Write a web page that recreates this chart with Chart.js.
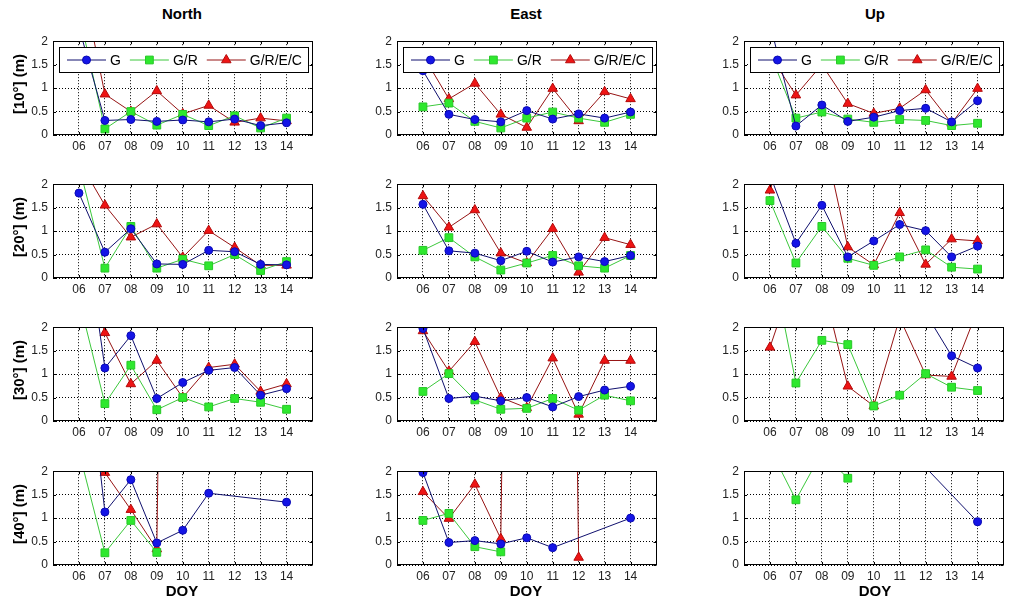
<!DOCTYPE html>
<html lang="en">
<head>
<meta charset="UTF-8">
<title>DOY panels</title>
<script src="https://cdn.jsdelivr.net/npm/chart.js@4.4.0/dist/chart.umd.min.js"></script>
<style>
  body { margin: 0; background: #fff; width: 1024px; height: 606px; position: relative; overflow: hidden;
         font-family: "Liberation Sans", Arial, sans-serif; color: #000; }
  canvas { position: absolute; }
  .title { position: absolute; top: 5px; font-weight: bold; font-size: 15px; transform: translateX(-50%); }
  .doy { position: absolute; top: 582px; font-weight: bold; font-size: 15px; transform: translateX(-50%); }
  .rowlab { position: absolute; font-weight: bold; font-size: 15px; white-space: nowrap;
            transform: translate(-50%, -50%) rotate(-90deg); }
</style>
</head>
<body>
<script>
const days = [6, 7, 8, 9, 10, 11, 12, 13, 14];
const yTicks = [0, 0.5, 1, 1.5, 2];
const seriesNames = ['G', 'G/R', 'G/R/E/C'];
const components = ['North', 'East', 'Up'];
const rowLabels = ['[10°] (m)', '[20°] (m)', '[30°] (m)', '[40°] (m)'];

// 10 deg
const north10G    = [2.3, 0.31, 0.33, 0.29, 0.32, 0.28, 0.34, 0.2, 0.26];
const north10GR   = [2.6, 0.13, 0.5, 0.21, 0.44, 0.2, 0.41, 0.15, 0.36];
const north10GREC = [3.6, 0.87, 0.5, 0.94, 0.45, 0.63, 0.27, 0.36, 0.3];
const east10G     = [1.37, 0.44, 0.33, 0.28, 0.52, 0.34, 0.45, 0.36, 0.49];
const east10GR    = [0.6, 0.68, 0.29, 0.15, 0.36, 0.49, 0.36, 0.27, 0.44];
const east10GREC  = [1.7, 0.77, 1.1, 0.44, 0.16, 0.99, 0.3, 0.92, 0.77];
const up10G       = [2.37, 0.19, 0.64, 0.29, 0.38, 0.52, 0.57, 0.28, 0.73];
const up10GR      = [1.75, 0.36, 0.49, 0.34, 0.27, 0.33, 0.31, 0.2, 0.25];
const up10GREC    = [1.7, 0.85, 1.5, 0.67, 0.46, 0.57, 0.96, 0.25, 0.99];

// 20 deg
const north20G    = [1.81, 0.55, 1.05, 0.3, 0.29, 0.59, 0.56, 0.29, 0.28];
const north20GR   = [2.4, 0.21, 1.1, 0.21, 0.4, 0.26, 0.5, 0.16, 0.35];
const north20GREC = [2.5, 1.55, 0.87, 1.15, 0.44, 1.01, 0.65, 0.27, 0.27];
const east20G     = [1.57, 0.58, 0.53, 0.37, 0.57, 0.34, 0.45, 0.35, 0.48];
const east20GR    = [0.59, 0.86, 0.45, 0.17, 0.32, 0.48, 0.26, 0.21, 0.48];
const east20GREC  = [1.75, 1.08, 1.45, 0.53, 0.32, 1.05, 0.12, 0.86, 0.71];
const up20G       = [2.2, 0.74, 1.55, 0.45, 0.79, 1.14, 1.01, 0.45, 0.68];
const up20GR      = [1.65, 0.32, 1.1, 0.42, 0.27, 0.45, 0.6, 0.23, 0.19];
const up20GREC    = [1.87, 3.5, 3.2, 0.66, 0.28, 1.39, 0.29, 0.83, 0.79];

// 30 deg
const north30G    = [5, 1.13, 1.82, 0.48, 0.82, 1.08, 1.14, 0.55, 0.69];
const north30GR   = [2.6, 0.37, 1.19, 0.24, 0.5, 0.3, 0.48, 0.4, 0.25];
const north30GREC = [4, 1.88, 0.79, 1.29, 0.5, 1.14, 1.21, 0.63, 0.79];
const east30G     = [1.97, 0.48, 0.53, 0.43, 0.5, 0.3, 0.52, 0.66, 0.74];
const east30GR    = [0.63, 1.01, 0.45, 0.25, 0.27, 0.48, 0.23, 0.55, 0.43];
const east30GREC  = [1.92, 1.06, 1.69, 0.5, 0.28, 1.34, 0.14, 1.29, 1.29];
const up30G       = [3.2, 3.6, 3.4, 3.0, 3.3, 2.9, 2.3, 1.39, 1.13];
const up30GR      = [3.6, 0.81, 1.72, 1.63, 0.32, 0.55, 1.01, 0.72, 0.65];
const up30GREC    = [1.57, 3.2, 3.0, 0.74, 0.32, 2.2, 0.98, 0.95, 2.37];

// 40 deg
const north40G    = [6, 1.13, 1.82, 0.47, 0.74, 1.53, null, null, 1.34];
const north40GR   = [2.42, 0.26, 0.95, 0.27, null, null, null, null, null];
const north40GREC = [null, 1.97, 1.18, 0.34, 40, null, null, null, null];
const east40G     = [1.97, 0.48, 0.52, 0.45, 0.58, 0.37, null, null, 1.0];
const east40GR    = [0.95, 1.1, 0.39, 0.28, null, null, null, null, null];
const east40GREC  = [1.56, 0.99, 1.72, 0.56, 40, 40, 0.16, null, null];
const up40G       = [3.2, 2.9, 3.5, 2.7, 3.0, 2.66, null, null, 0.92];
const up40GR      = [2.48, 1.39, 2.4, 1.85, null, null, null, null, null];
const up40GREC    = [null, null, null, null, null, null, null, null, null];

const panels = [
  [[north10G, north10GR, north10GREC], [east10G, east10GR, east10GREC], [up10G, up10GR, up10GREC]],
  [[north20G, north20GR, north20GREC], [east20G, east20GR, east20GREC], [up20G, up20GR, up20GREC]],
  [[north30G, north30GR, north30GREC], [east30G, east30GR, east30GREC], [up30G, up30GR, up30GREC]],
  [[north40G, north40GR, north40GREC], [east40G, east40GR, east40GREC], [up40G, up40GR, up40GREC]]
];

// plot-area placement (px)
const colLeft = [53, 397, 744];
const rowTop = [32, 175, 318, 462];
const plotW = 263, plotH = 103;
const yAxisW = 40, xAxisH = 22, padT = 3, padR = 3;

const styles = [
  { line: '#10106e', fill: '#1414e6', edge: '#0a0ab4', shape: 'circle', r: 4 },
  { line: '#3cc83c', fill: '#2ee82e', edge: '#28c828', shape: 'rect', r: 5.5 },
  { line: '#961414', fill: '#ee1414', edge: '#b40a0a', shape: 'triangle', r: 5.5 }
];

const fontFam = '"Liberation Sans", Arial, sans-serif';
Chart.defaults.font.family = fontFam;
Chart.defaults.font.size = 12;
Chart.defaults.color = '#222';

function marker(ctx, shape, x, y, r) {
  ctx.beginPath();
  if (shape === 'circle') {
    ctx.arc(x, y, r, 0, Math.PI * 2);
  } else if (shape === 'rect') {
    const s = r * Math.SQRT1_2;
    ctx.rect(x - s, y - s, 2 * s, 2 * s);
  } else {
    ctx.moveTo(x, y - r);
    ctx.lineTo(x + r * 0.866, y + r * 0.5);
    ctx.lineTo(x - r * 0.866, y + r * 0.5);
    ctx.closePath();
  }
  ctx.fill();
  ctx.stroke();
}

const framePlugin = {
  id: 'frame',
  afterDatasetsDraw(chart, args, opts) {
    const ctx = chart.ctx, a = chart.chartArea;
    const xs = chart.scales.x, ys = chart.scales.y;
    ctx.save();
    ctx.strokeStyle = '#000';
    ctx.lineWidth = 1;
    ctx.strokeRect(Math.round(a.left) + 0.5, Math.round(a.top) + 0.5,
                   Math.round(a.right - a.left) - 1, Math.round(a.bottom - a.top) - 1);
    ctx.beginPath();
    xs.ticks.forEach(t => {
      const px = Math.round(xs.getPixelForValue(t.value)) + 0.5;
      ctx.moveTo(px, a.bottom); ctx.lineTo(px, a.bottom - 3);
      ctx.moveTo(px, a.top); ctx.lineTo(px, a.top + 3);
    });
    ys.ticks.forEach(t => {
      const py = Math.round(ys.getPixelForValue(t.value)) + 0.5;
      ctx.moveTo(a.left, py); ctx.lineTo(a.left + 3, py);
      ctx.moveTo(a.right, py); ctx.lineTo(a.right - 3, py);
    });
    ctx.stroke();

    if (opts.legend) {
      ctx.font = '14px ' + fontFam;
      ctx.textBaseline = 'middle';
      const lineLen = 39, pad = 8, gap = 4, sep = 9, h = 25;
      let w = pad + 6 - sep;
      seriesNames.forEach(n => { w += lineLen + gap + ctx.measureText(n).width + sep; });
      const x0 = Math.round(a.left) + 6, y0 = Math.round(a.top) + 6;
      ctx.fillStyle = '#fff';
      ctx.fillRect(x0, y0, w, h);
      ctx.strokeStyle = '#000';
      ctx.strokeRect(x0 + 0.5, y0 + 0.5, Math.round(w), h);
      let x = x0 + pad;
      const yc = y0 + h / 2 + 0.5;
      seriesNames.forEach((n, i) => {
        const st = styles[i];
        ctx.strokeStyle = st.line;
        ctx.beginPath(); ctx.moveTo(x, yc); ctx.lineTo(x + lineLen, yc); ctx.stroke();
        ctx.fillStyle = st.fill; ctx.strokeStyle = st.edge;
        marker(ctx, st.shape, x + lineLen / 2, yc, st.r);
        x += lineLen + gap;
        ctx.fillStyle = '#000';
        ctx.fillText(n, x, yc + 1);
        x += ctx.measureText(n).width + sep;
      });
    }
    ctx.restore();
  }
};

function makePanel(row, col) {
  const cv = document.createElement('canvas');
  const w = yAxisW + plotW + padR, h = padT + plotH + xAxisH;
  cv.width = w; cv.height = h;
  cv.style.left = (colLeft[col] - yAxisW) + 'px';
  cv.style.top = (rowTop[row] - padT) + 'px';
  document.body.appendChild(cv);

  const datasets = panels[row][col].map((vals, i) => ({
    label: seriesNames[i],
    data: days.map((d, k) => ({ x: d, y: vals[k] })),
    borderColor: styles[i].line,
    borderWidth: 1,
    backgroundColor: styles[i].fill,
    pointStyle: styles[i].shape,
    pointRadius: styles[i].r,
    pointBackgroundColor: styles[i].fill,
    pointBorderColor: styles[i].edge,
    pointBorderWidth: 1,
    spanGaps: true,
    tension: 0,
    clip: 0
  }));

  new Chart(cv, {
    type: 'line',
    data: { datasets },
    plugins: [framePlugin],
    options: {
      responsive: false,
      animation: false,
      events: [],
      layout: { padding: { top: padT, right: padR, left: 0, bottom: 0 } },
      plugins: {
        legend: { display: false },
        tooltip: { enabled: false },
        frame: { legend: row === 0 }
      },
      scales: {
        x: {
          type: 'linear', min: 5, max: 15,
          afterBuildTicks: s => { s.ticks = days.map(v => ({ value: v })); },
          afterFit: s => { s.height = xAxisH; },
          ticks: { autoSkip: false, maxRotation: 0, padding: 4,
                   callback: v => String(v).padStart(2, '0') },
          grid: { color: '#000', lineWidth: 1, drawTicks: false },
          border: { display: false, dash: [1, 2] }
        },
        y: {
          min: 0, max: 2,
          afterBuildTicks: s => { s.ticks = yTicks.map(v => ({ value: v })); },
          afterFit: s => { s.width = yAxisW; },
          ticks: { padding: 5, callback: v => String(v) },
          grid: { color: '#000', lineWidth: 1, drawTicks: false },
          border: { display: false, dash: [1, 2] }
        }
      }
    }
  });
}

for (let r = 0; r < 4; r++) for (let c = 0; c < 3; c++) makePanel(r, c);

const titleX = [182, 526, 875];
components.forEach((t, c) => {
  const d = document.createElement('div');
  d.className = 'title'; d.textContent = t; d.style.left = titleX[c] + 'px';
  document.body.appendChild(d);
  const e = document.createElement('div');
  e.className = 'doy'; e.textContent = 'DOY'; e.style.left = titleX[c] + 'px';
  document.body.appendChild(e);
});
rowLabels.forEach((t, r) => {
  const d = document.createElement('div');
  d.className = 'rowlab'; d.textContent = t;
  d.style.left = '18px'; d.style.top = (rowTop[r] + plotH / 2) + 'px';
  document.body.appendChild(d);
});
</script>
</body>
</html>
